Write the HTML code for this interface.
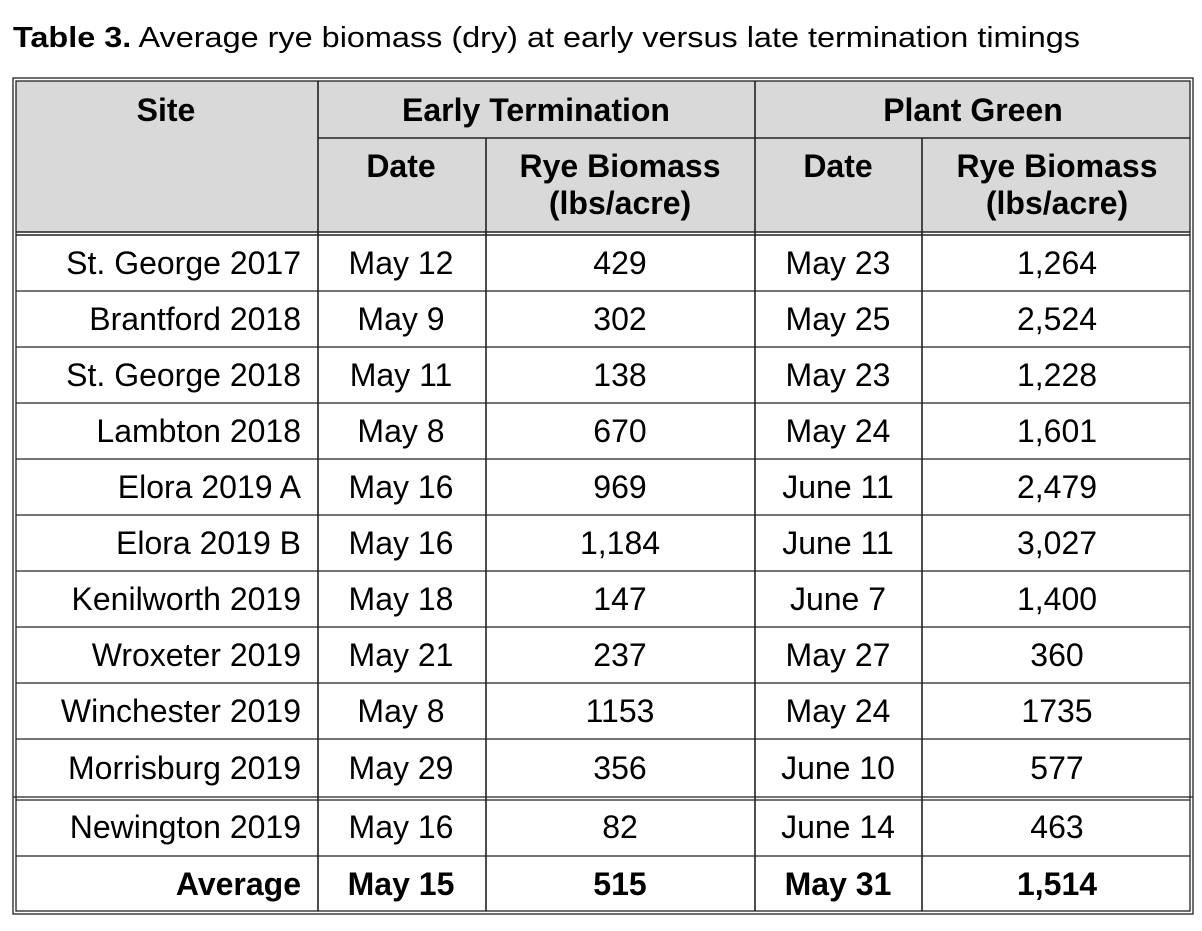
<!DOCTYPE html>
<html><head><meta charset="utf-8"><style>
html,body{margin:0;padding:0;background:#fff;}
svg text{font-family:"Liberation Sans",Arial,sans-serif;fill:#000;}
</style></head><body>
<svg width="1202" height="926" xmlns="http://www.w3.org/2000/svg">
<text x="13" y="47" font-size="28.5" textLength="1067" lengthAdjust="spacingAndGlyphs"><tspan font-weight="bold">Table 3.</tspan> Average rye biomass (dry) at early versus late termination timings</text>
<rect x="16" y="81" width="1174" height="151" fill="#d9d9d9"/>
<g stroke="#222" fill="none">
<rect x="13" y="78" width="1180" height="836" stroke-width="1.3"/>
<rect x="16" y="81" width="1174" height="830" stroke-width="1.3"/>
<line x1="16" y1="232" x2="1190" y2="232" stroke-width="1.6"/>
<line x1="16" y1="235" x2="1190" y2="235" stroke-width="1.6"/>
<line x1="318" y1="138" x2="1190" y2="138" stroke-width="1.6"/>
<line x1="318" y1="81" x2="318" y2="911" stroke-width="1.6"/>
<line x1="755" y1="81" x2="755" y2="911" stroke-width="1.6"/>
<line x1="486" y1="138" x2="486" y2="911" stroke-width="1.6"/>
<line x1="922" y1="138" x2="922" y2="911" stroke-width="1.6"/>
<g stroke-width="1.3">
<line x1="16" y1="291" x2="1190" y2="291"/>
<line x1="16" y1="347" x2="1190" y2="347"/>
<line x1="16" y1="403" x2="1190" y2="403"/>
<line x1="16" y1="459" x2="1190" y2="459"/>
<line x1="16" y1="515" x2="1190" y2="515"/>
<line x1="16" y1="571" x2="1190" y2="571"/>
<line x1="16" y1="627" x2="1190" y2="627"/>
<line x1="16" y1="683" x2="1190" y2="683"/>
<line x1="16" y1="739" x2="1190" y2="739"/>
<line x1="13" y1="797" x2="1193" y2="797"/>
<line x1="16" y1="800" x2="1190" y2="800"/>
<line x1="16" y1="856" x2="1190" y2="856"/>
</g></g>
<g font-size="32" font-weight="bold" text-anchor="middle">
<text x="166" y="121">Site</text>
<text x="536" y="121">Early Termination</text>
<text x="973" y="121">Plant Green</text>
<text x="401" y="177">Date</text>
<text x="620" y="177">Rye Biomass</text>
<text x="620" y="214">(lbs/acre)</text>
<text x="838" y="177">Date</text>
<text x="1057" y="177">Rye Biomass</text>
<text x="1057" y="214">(lbs/acre)</text>
</g>
<g font-size="32">
<g text-anchor="end">
<text x="301" y="274">St. George 2017</text>
<text x="301" y="330">Brantford 2018</text>
<text x="301" y="386">St. George 2018</text>
<text x="301" y="442">Lambton 2018</text>
<text x="301" y="498">Elora 2019 A</text>
<text x="301" y="554">Elora 2019 B</text>
<text x="301" y="610">Kenilworth 2019</text>
<text x="301" y="666">Wroxeter 2019</text>
<text x="301" y="722">Winchester 2019</text>
<text x="301" y="779">Morrisburg 2019</text>
<text x="301" y="838">Newington 2019</text>
<text x="301" y="895" font-weight="bold">Average</text>
</g>
<g text-anchor="middle">
<text x="401" y="274">May 12</text><text x="620" y="274">429</text><text x="838" y="274">May 23</text><text x="1057" y="274">1,264</text>
<text x="401" y="330">May 9</text><text x="620" y="330">302</text><text x="838" y="330">May 25</text><text x="1057" y="330">2,524</text>
<text x="401" y="386">May 11</text><text x="620" y="386">138</text><text x="838" y="386">May 23</text><text x="1057" y="386">1,228</text>
<text x="401" y="442">May 8</text><text x="620" y="442">670</text><text x="838" y="442">May 24</text><text x="1057" y="442">1,601</text>
<text x="401" y="498">May 16</text><text x="620" y="498">969</text><text x="838" y="498">June 11</text><text x="1057" y="498">2,479</text>
<text x="401" y="554">May 16</text><text x="620" y="554">1,184</text><text x="838" y="554">June 11</text><text x="1057" y="554">3,027</text>
<text x="401" y="610">May 18</text><text x="620" y="610">147</text><text x="838" y="610">June 7</text><text x="1057" y="610">1,400</text>
<text x="401" y="666">May 21</text><text x="620" y="666">237</text><text x="838" y="666">May 27</text><text x="1057" y="666">360</text>
<text x="401" y="722">May 8</text><text x="620" y="722">1153</text><text x="838" y="722">May 24</text><text x="1057" y="722">1735</text>
<text x="401" y="779">May 29</text><text x="620" y="779">356</text><text x="838" y="779">June 10</text><text x="1057" y="779">577</text>
<text x="401" y="838">May 16</text><text x="620" y="838">82</text><text x="838" y="838">June 14</text><text x="1057" y="838">463</text>
<g font-weight="bold"><text x="401" y="895">May 15</text><text x="620" y="895">515</text><text x="838" y="895">May 31</text><text x="1057" y="895">1,514</text></g>
</g></g>
</svg>
</body></html>
